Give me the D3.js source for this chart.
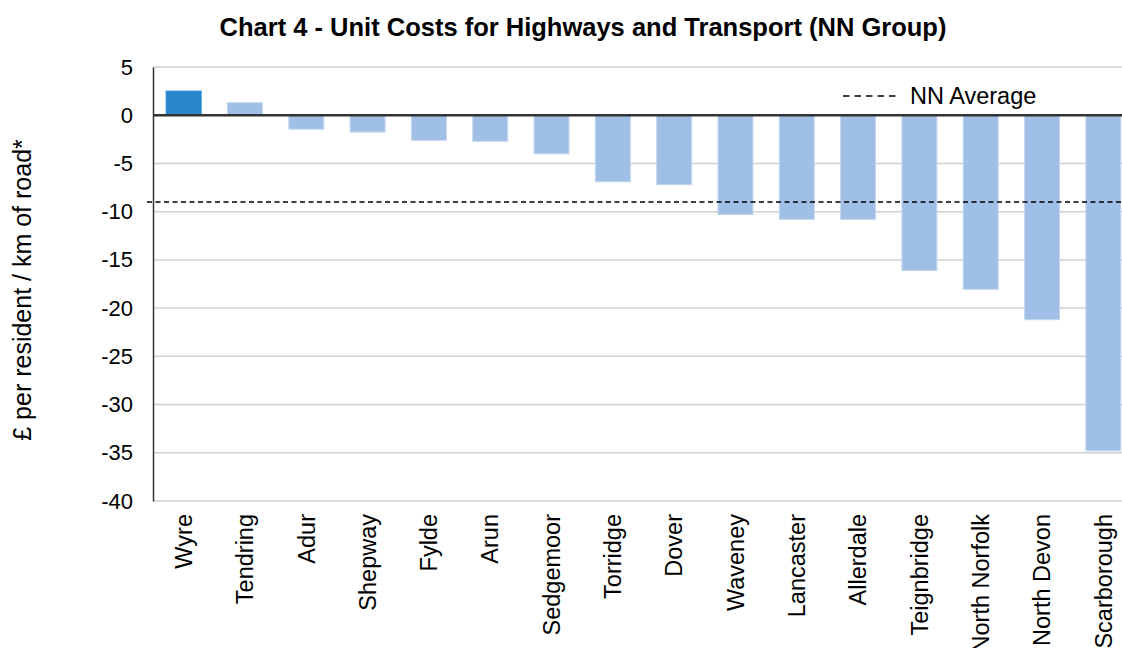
<!DOCTYPE html>
<html>
<head>
<meta charset="utf-8">
<script src="https://cdn.jsdelivr.net/npm/d3@7"></script>
<style>
  body { margin: 0; background: #fff; }
  text { font-family: "Liberation Sans", Arial, sans-serif; fill: #000; }
</style>
</head>
<body>
<div id="chart"></div>
<script>
let width = 1122,
height = 648;

// data
const councils = ["Wyre", "Tendring", "Adur", "Shepway", "Fylde", "Arun", "Sedgemoor", "Torridge",
  "Dover", "Waveney", "Lancaster", "Allerdale", "Teignbridge", "North Norfolk", "North Devon", "Scarborough"];
const unitCost = [2.5, 1.3, -1.45, -1.75, -2.6, -2.7, -4.0, -6.9, -7.2, -10.3, -10.8, -10.8, -16.1, -18.05, -21.2, -34.8];
const nnAverage = -9.0;
const yTicks = [5, 0, -5, -10, -15, -20, -25, -30, -35, -40];
const highlight = "Wyre";

let svg = d3.select("#chart")
.append("svg")
.attr("width", width)
.attr("height", height);

let x = d3.scaleBand()
    .domain(councils)
    .range([153, 1134])
    .paddingInner(0.43)
    .paddingOuter(0.215);

let y = d3.scaleLinear()
    .domain([-40, 5])
    .range([501, 67]);

// title
svg.append("text")
    .attr("x", 583).attr("y", 36)
    .attr("text-anchor", "middle")
    .style("font-size", "25.5px").style("font-weight", "bold")
    .text("Chart 4 - Unit Costs for Highways and Transport (NN Group)");

// gridlines
svg.append("g")
    .selectAll("line")
    .data(yTicks.filter(d => d !== 0))
    .join("line")
    .attr("x1", 153).attr("x2", width)
    .attr("y1", d => y(d)).attr("y2", d => y(d))
    .attr("stroke", "#d0d0d0")
    .attr("stroke-width", 1.5);

// y axis (plain hyphen for negatives, like the original)
let yAxis = svg.append("g")
    .attr("transform", "translate(153,0)")
    .call(d3.axisLeft(y).tickValues(yTicks).tickSize(0).tickPadding(20)
        .tickFormat(d => String(d)));
yAxis.select(".domain").attr("stroke", "#333").attr("stroke-width", 1.5);
yAxis.selectAll("text").style("font-size", "22px").attr("fill", "#000");

svg.append("text")
    .attr("transform", "translate(22,290) rotate(-90)")
    .attr("text-anchor", "middle")
    .attr("dy", "0.35em")
    .style("font-size", "25px")
    .text("£ per resident / km of road*");

// bars
svg.append("g")
    .selectAll("rect")
    .data(councils)
    .join("rect")
    .attr("x", d => x(d))
    .attr("width", x.bandwidth())
    .attr("y", (d, i) => y(Math.max(0, unitCost[i])))
    .attr("height", (d, i) => Math.abs(y(unitCost[i]) - y(0)))
    .attr("fill", d => d === highlight ? "#2887cc" : "#a0bfe6")
    .attr("stroke", d => d === highlight ? "#2887cc" : "#c3d6f0")
    .attr("stroke-width", 1);

// zero line
svg.append("line")
    .attr("x1", 153).attr("x2", width)
    .attr("y1", y(0)).attr("y2", y(0))
    .attr("stroke", "#333")
    .attr("stroke-width", 2.5);

// NN average line
svg.append("line")
    .attr("x1", 147).attr("x2", width)
    .attr("y1", y(nnAverage)).attr("y2", y(nnAverage))
    .attr("stroke", "#000")
    .attr("stroke-width", 1.5)
    .attr("stroke-dasharray", "5,3.5");

// x labels
svg.append("g")
    .selectAll("text")
    .data(councils)
    .join("text")
    .attr("transform", d => `translate(${x(d) + x.bandwidth() / 2},514) rotate(-90)`)
    .attr("text-anchor", "end")
    .attr("dy", "0.35em")
    .style("font-size", "23.5px")
    .text(d => d);

// legend
svg.append("line")
    .attr("x1", 843).attr("x2", 900)
    .attr("y1", 96).attr("y2", 96)
    .attr("stroke", "#000")
    .attr("stroke-width", 1.5)
    .attr("stroke-dasharray", "6.5,5");
svg.append("text")
    .attr("x", 910).attr("y", 96)
    .attr("dy", "0.35em")
    .style("font-size", "23.5px")
    .text("NN Average");
</script>
</body>
</html>
